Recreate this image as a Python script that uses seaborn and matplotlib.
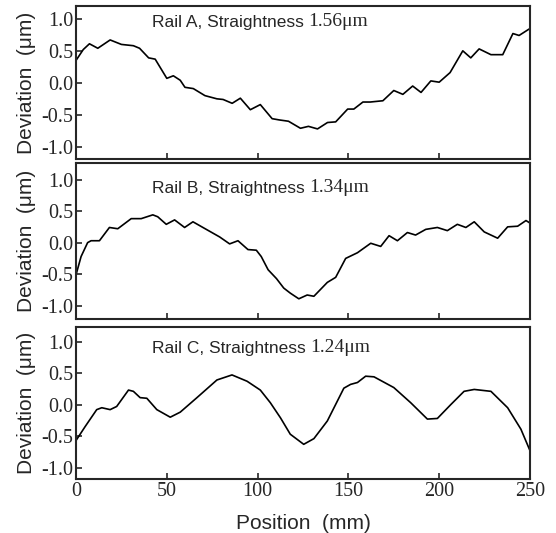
import matplotlib
matplotlib.use("Agg")
import matplotlib.pyplot as plt
import seaborn as sns
import pandas as pd

# Rail A profile (position mm, deviation um)
pos_a = [0, 4, 7.4, 12, 18.8, 25, 31.6, 35, 40, 43.6, 50, 53.6, 57.4, 60, 64.6,
         71, 77.6, 81, 86, 90.5, 96, 101.5, 108, 112, 117, 123.6, 128, 133,
         138.5, 143, 149.6, 153, 158, 162, 169, 175, 180, 185.4, 190, 195.4,
         200, 206, 213, 217.4, 222, 228.5, 235, 240.6, 244, 249.5]
dev_a = [0.35, 0.52, 0.61, 0.54, 0.67, 0.6, 0.58, 0.54, 0.39, 0.37, 0.07, 0.11,
         0.04, -0.07, -0.09, -0.2, -0.25, -0.26, -0.32, -0.24, -0.42, -0.34,
         -0.56, -0.58, -0.6, -0.71, -0.68, -0.72, -0.62, -0.61, -0.41, -0.41,
         -0.3, -0.3, -0.28, -0.12, -0.18, -0.05, -0.15, 0.03, 0.01, 0.16, 0.5,
         0.39, 0.53, 0.44, 0.44, 0.77, 0.74, 0.84]

# Rail B profile
pos_b = [0, 2.8, 6.4, 8.3, 12.9, 18.4, 23, 30.4, 35.9, 42.3, 45, 49.7, 54.3,
         59.8, 64.4, 69.9, 79.1, 84.6, 89.2, 94.7, 99.3, 102, 105.8, 110.4,
         114.4, 118, 122.7, 127.3, 131, 138.4, 143, 148.5, 155, 162.3, 167.8,
         172.4, 177, 182.5, 187, 192.6, 199, 204.5, 210, 214.7, 219.3, 224.8,
         232.2, 237.7, 243.2, 247.8, 250]
dev_b = [-0.51, -0.22, 0.0, 0.03, 0.03, 0.24, 0.22, 0.38, 0.38, 0.44, 0.41,
         0.29, 0.36, 0.24, 0.33, 0.24, 0.09, -0.02, 0.03, -0.11, -0.12, -0.22,
         -0.43, -0.57, -0.72, -0.8, -0.89, -0.83, -0.85, -0.63, -0.55, -0.25,
         -0.16, -0.01, -0.06, 0.11, 0.03, 0.16, 0.12, 0.21, 0.24, 0.19, 0.29,
         0.24, 0.33, 0.17, 0.07, 0.25, 0.26, 0.35, 0.31]

# Rail C profile
pos_c = [0, 5, 11.4, 14.2, 18.8, 22.4, 28.9, 31.6, 35.3, 39, 44.5, 51.9, 57.4,
         66.6, 77.6, 85.9, 94.2, 101.5, 107, 112.6, 118, 125.4, 131, 138.4,
         147.5, 151.2, 155, 159.5, 164.1, 175, 184.3, 193.5, 199, 206.4, 213.7,
         219.3, 228.5, 237.7, 245, 250]
dev_c = [-0.57, -0.35, -0.08, -0.05, -0.08, -0.03, 0.23, 0.21, 0.11, 0.1,
         -0.08, -0.2, -0.12, 0.11, 0.39, 0.47, 0.37, 0.23, 0.03, -0.21, -0.47,
         -0.63, -0.54, -0.26, 0.26, 0.32, 0.35, 0.45, 0.44, 0.27, 0.03, -0.23,
         -0.22, 0.0, 0.21, 0.24, 0.21, -0.05, -0.39, -0.73]

rail_names = ["Rail A", "Rail B", "Rail C"]
straightness = ["1.56\u03bcm", "1.34\u03bcm", "1.24\u03bcm"]
x_ticks = [0, 50, 100, 150, 200, 250]
y_ticks = [-1.0, -0.5, 0.0, 0.5, 1.0]

df = pd.concat([
    pd.DataFrame({"rail": name, "position": p, "deviation": d})
    for name, p, d in zip(rail_names, [pos_a, pos_b, pos_c], [dev_a, dev_b, dev_c])
])

sns.set_style("ticks")
plt.rcParams["axes.unicode_minus"] = False
plt.rcParams["xtick.direction"] = "in"
plt.rcParams["ytick.direction"] = "in"

fig = plt.figure(figsize=(5.56, 5.33), dpi=100)

# panel boxes in figure fractions [left, bottom, width, height]
boxes = [[0.1367, 0.7017, 0.8165, 0.2870],
         [0.1367, 0.4015, 0.8165, 0.2925],
         [0.1367, 0.1013, 0.8165, 0.2852]]
ylims = [(-1.19, 1.20), (-1.21, 1.26), (-1.18, 1.23)]
text_y = [0.862, 0.808, 0.828]

for i, name in enumerate(rail_names):
    ax = fig.add_axes(boxes[i])
    sns.lineplot(data=df[df["rail"] == name], x="position", y="deviation",
                 color="black", linewidth=1.2, ax=ax, estimator=None, sort=False)
    ax.set_xlim(0, 250)
    ax.set_ylim(*ylims[i])
    ax.set_xticks(x_ticks)
    ax.set_yticks(y_ticks)
    ax.set_yticklabels([f"{v:.1f}" for v in y_ticks],
                       family="Liberation Serif", fontsize=14.5)
    ax.tick_params(length=4, width=1.2, pad=2)
    for s in ax.spines.values():
        s.set_linewidth(1.5)
    ax.set_ylabel("Deviation  (\u03bcm)", family="Liberation Sans",
                  fontsize=15, labelpad=4)
    if i < 2:
        ax.set_xticklabels([])
        ax.set_xlabel("")
    else:
        ax.set_xticklabels([str(v) for v in x_ticks],
                           family="Liberation Serif", fontsize=14.5)
        ax.set_xlabel("Position  (mm)", family="Liberation Sans",
                      fontsize=15, labelpad=9.5)
    t = ax.text(0.167, text_y[i], name + ", Straightness ",
                transform=ax.transAxes, family="Liberation Sans",
                fontsize=12.5, va="baseline")
    ax.annotate(straightness[i], xy=(1, 0), xycoords=t, va="bottom",
                family="Liberation Serif", fontsize=14)

fig.savefig("out.png", dpi=100)
